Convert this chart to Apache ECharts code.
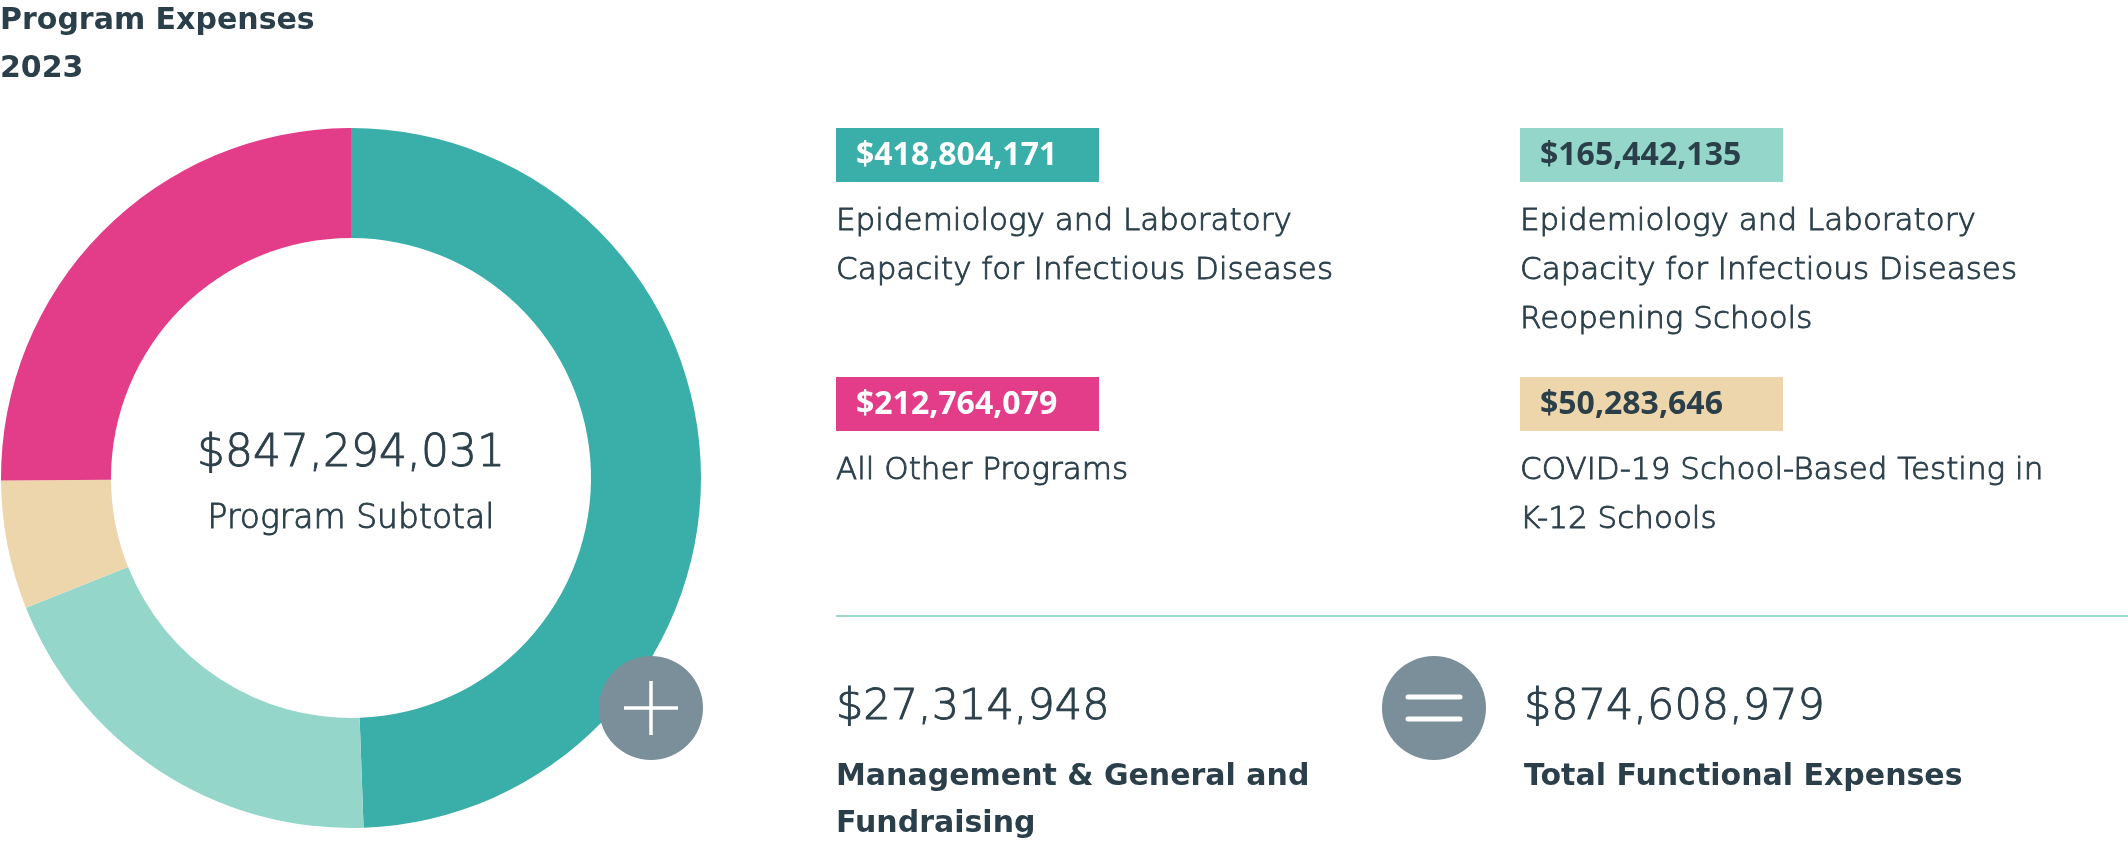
<!DOCTYPE html>
<html>
<head>
<meta charset="utf-8">
<script src="https://cdn.jsdelivr.net/npm/echarts@6/dist/echarts.min.js"></script>
<style>
html,body{margin:0;padding:0;background:#fff;}
#chart{width:2128px;height:843px;}
</style>
</head>
<body>
<div id="chart"></div>
<script>
const categories = [
  "Epidemiology and Laboratory\nCapacity for Infectious Diseases",
  "Epidemiology and Laboratory\nCapacity for Infectious Diseases\nReopening Schools",
  "COVID-19 School-Based Testing in\nK-12 Schools",
  "All Other Programs"
];
const values = [418804171, 165442135, 50283646, 212764079];
const colors = ["#3AAEA8", "#94D6CA", "#EDD6AC", "#E33D89"];
const boxTextColors = ["#ffffff", "#2B3F4A", "#2B3F4A", "#ffffff"];
const managementValue = 27314948;
const titleLines = ["Program Expenses", "2023"];

const subtotal = values.reduce((a, b) => a + b, 0);
const total = subtotal + managementValue;
const fmt = v => "$" + v.toLocaleString("en-US");

const dark = "#2B3F4A";
const FONT = "'DejaVu Sans', sans-serif";
const light = (size) => ({font: "300 " + size + "px " + FONT, fill: dark, stroke: dark, lineWidth: 0.9});

// legend block positions (teal, lightteal, tan, pink)
const slots = [
  {x: 836, y: 128},
  {x: 1520, y: 128},
  {x: 1520, y: 377},
  {x: 836, y: 377}
];

const graphics = [];
titleLines.forEach((t, i) => {
  graphics.push({type: 'text', x: 0, y: 21 + i * 48, style: {text: t, fill: dark, font: "bold 30px " + FONT, verticalAlign: 'middle'}});
});
graphics.push({type: 'text', x: 351, y: 455, style: Object.assign({text: fmt(subtotal), align: 'center', verticalAlign: 'middle'}, light(44))});
graphics.push({type: 'text', x: 351, y: 519, style: Object.assign({text: "Program Subtotal", align: 'center', verticalAlign: 'middle'}, light(33))});

values.forEach((v, i) => {
  const s = slots[i];
  graphics.push({type: 'rect', shape: {x: s.x, y: s.y, width: 263, height: 54}, style: {fill: colors[i]}});
  graphics.push({type: 'text', x: s.x + 20, y: s.y + 28, style: {text: fmt(v), fill: boxTextColors[i], font: "bold 32px 'Open Sans', sans-serif", verticalAlign: 'middle'}});
  const lines = categories[i].split("\n");
  lines.forEach((ln, j) => {
    graphics.push({type: 'text', x: s.x, y: s.y + 94 + j * 49, style: Object.assign({text: ln, verticalAlign: 'middle'}, light(31))});
  });
});

// divider
graphics.push({type: 'line', shape: {x1: 836, y1: 616, x2: 2128, y2: 616}, style: {stroke: "#9ED8CC", lineWidth: 2}});

// plus circle
graphics.push({type: 'circle', z: 10, shape: {cx: 651, cy: 708, r: 52}, style: {fill: "#7A8F99"}});
graphics.push({type: 'line', z: 11, shape: {x1: 624, y1: 708, x2: 678, y2: 708}, style: {stroke: "#fff", lineWidth: 3.5}});
graphics.push({type: 'line', z: 11, shape: {x1: 651, y1: 681, x2: 651, y2: 735}, style: {stroke: "#fff", lineWidth: 3.5}});
// equals circle
graphics.push({type: 'circle', z: 10, shape: {cx: 1434, cy: 708, r: 52}, style: {fill: "#7A8F99"}});
graphics.push({type: 'line', z: 11, shape: {x1: 1408, y1: 697, x2: 1460, y2: 697}, style: {stroke: "#fff", lineWidth: 5, lineCap: 'round'}});
graphics.push({type: 'line', z: 11, shape: {x1: 1408, y1: 719, x2: 1460, y2: 719}, style: {stroke: "#fff", lineWidth: 5, lineCap: 'round'}});

graphics.push({type: 'text', x: 836, y: 708, style: Object.assign({text: fmt(managementValue), verticalAlign: 'middle'}, light(43))});
["Management & General and", "Fundraising"].forEach((t, j) => {
  graphics.push({type: 'text', x: 836, y: 777 + j * 47, style: {text: t, fill: dark, font: "bold 30px " + FONT, verticalAlign: 'middle'}});
});
graphics.push({type: 'text', x: 1524, y: 708, style: Object.assign({text: fmt(total), verticalAlign: 'middle'}, light(43))});
graphics.push({type: 'text', x: 1524, y: 777, style: {text: "Total Functional Expenses", fill: dark, font: "bold 30px " + FONT, verticalAlign: 'middle'}});

const chart = echarts.init(document.getElementById('chart'), null, {renderer: 'canvas'});
chart.setOption({
  animation: false,
  graphic: graphics,
  series: [{
    type: 'pie',
    center: [351, 478],
    radius: [240, 350],
    startAngle: 90,
    clockwise: true,
    silent: true,
    label: {show: false},
    labelLine: {show: false},
    itemStyle: {borderWidth: 0},
    data: values.map((v, i) => ({name: categories[i], value: v, itemStyle: {color: colors[i]}}))
  }]
});
</script>
</body>
</html>
